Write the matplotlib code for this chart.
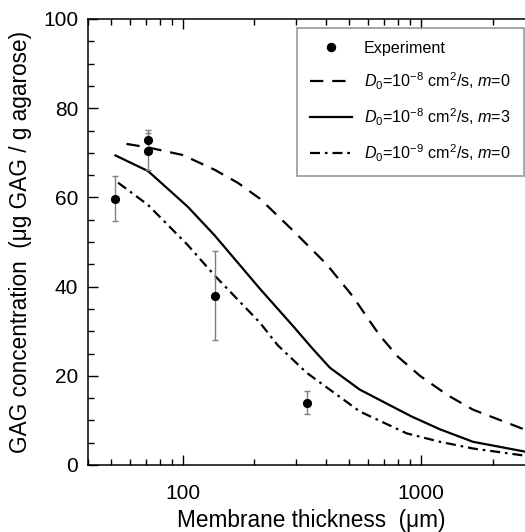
import matplotlib
matplotlib.use("Agg")
import matplotlib.pyplot as plt
from matplotlib.ticker import FixedLocator, NullFormatter, MultipleLocator
from matplotlib.lines import Line2D

plt.rcParams['font.family'] = ['Liberation Sans', 'DejaVu Sans']
plt.rcParams['mathtext.fontset'] = 'custom'
plt.rcParams['mathtext.rm'] = 'Liberation Sans'
plt.rcParams['mathtext.it'] = 'Liberation Sans:italic'

# Experimental data
exp_x = [52, 71.5, 71.5, 136, 331]
exp_y = [59.7, 72.8, 70.3, 38.0, 14.0]
exp_err = [5.0, 2.3, 4.1, 10.0, 2.5]

# Model curves
d8m0_x = [58, 71.5, 100, 136, 170, 211, 290, 402, 518, 600, 673, 800, 991, 1300, 1656, 3000]
d8m0_y = [72.0, 71.2, 69.5, 66.2, 63.3, 59.7, 52.6, 45.0, 37.8, 32.8, 29.0, 24.3, 20.0, 15.6, 12.4, 7.1]

d8m3_x = [52.2, 71.5, 105, 136, 211, 290, 352, 415, 554, 912, 1203, 1656, 3000]
d8m3_y = [69.4, 65.9, 57.9, 51.5, 39.5, 31.2, 26.0, 21.8, 16.9, 10.9, 8.0, 5.2, 2.6]

d9m0_x = [53.5, 71.5, 105, 136, 211, 250, 331, 554, 871, 1203, 1656, 3000]
d9m0_y = [63.3, 58.3, 49.3, 42.5, 31.9, 26.9, 20.7, 12.0, 7.1, 5.2, 3.7, 1.8]

W, H = 525, 532
fig = plt.figure(figsize=(W / 100, H / 100), dpi=100)
ax = fig.add_axes([88 / W, (H - 465) / H, (534.5 - 88) / W, (465 - 19) / H])

lw = 1.6
ax.plot(d8m0_x, d8m0_y, color='black', lw=lw, linestyle=(0, (6, 4)))
ax.plot(d8m3_x, d8m3_y, color='black', lw=lw, linestyle='-')
ax.plot(d9m0_x, d9m0_y, color='black', lw=lw, linestyle=(0, (4.5, 2.2, 1.2, 2.2)))

ax.errorbar(exp_x, exp_y, yerr=exp_err, fmt='none', ecolor='#7f7f7f',
            elinewidth=1.0, capsize=2.5, capthick=1.0, zorder=3)
ax.plot(exp_x, exp_y, 'o', color='black', markersize=5.6, zorder=4)

ax.set_xscale('log')
ax.set_xlim(40, 3000)
ax.set_ylim(0, 100)

ax.xaxis.set_major_locator(FixedLocator([100, 1000]))
ax.xaxis.set_minor_locator(FixedLocator([40, 50, 60, 70, 80, 90, 200, 300, 400, 500,
                                         600, 700, 800, 900, 2000, 3000]))
ax.xaxis.set_minor_formatter(NullFormatter())
ax.set_xticklabels(['100', '1000'])
ax.yaxis.set_major_locator(MultipleLocator(20))
ax.yaxis.set_minor_locator(MultipleLocator(5))

ax.tick_params(which='both', direction='in', top=True, right=True,
               labelsize=15, width=1.0)
ax.tick_params(axis='x', which='both', pad=14)
ax.tick_params(axis='y', which='both', pad=7)
ax.tick_params(which='major', length=7)
ax.tick_params(which='minor', length=4)
for s in ax.spines.values():
    s.set_linewidth(1.1)

ax.set_xlabel('Membrane thickness  (\u03bcm)', fontsize=16.3, labelpad=4)
ax.set_ylabel('GAG concentration  (\u03bcg GAG / g agarose)', fontsize=16.3, labelpad=8)

handles = [
    Line2D([], [], marker='o', color='black', linestyle='none', markersize=5.8),
    Line2D([], [], color='black', lw=lw, linestyle=(0, (6, 4))),
    Line2D([], [], color='black', lw=lw, linestyle='-'),
    Line2D([], [], color='black', lw=lw, linestyle=(0, (4.5, 2.2, 1.2, 2.2))),
]
labels = [
    'Experiment',
    r'$D_0$=10$^{-8}$ cm$^2$/s, $m$=0',
    r'$D_0$=10$^{-8}$ cm$^2$/s, $m$=3',
    r'$D_0$=10$^{-9}$ cm$^2$/s, $m$=0',
]
leg = fig.legend(handles, labels, loc='upper left',
                 bbox_to_anchor=(297 / W, 1 - 28 / H, (521 - 297) / W, 0),
                 fontsize=11.6, frameon=True, fancybox=False,
                 edgecolor='#7f7f7f', handlelength=2.6, handletextpad=0.75,
                 labelspacing=0.9, borderpad=0.8, borderaxespad=0)
leg.get_frame().set_linewidth(1.2)

fig.savefig('out.png', dpi=100)
